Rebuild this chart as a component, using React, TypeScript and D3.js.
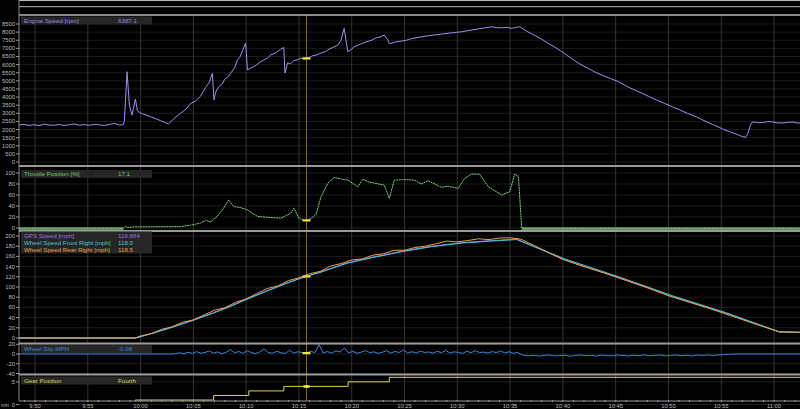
import React from "react";
import * as d3 from "d3";

// ---- time axis (minutes after 9:50) ----
const timeTicks = [0, 5, 10, 15, 20, 25, 30, 35, 40, 45, 50, 55, 60, 65, 70];
const timeLabels = ["9:50", "9:55", "10:00", "10:05", "10:10", "10:15", "10:20", "10:25", "10:30", "10:35", "10:40", "10:45", "10:50", "10:55", "11:00"];
const cursorTime = 25.72;

// ---- Engine speed [rpm] ----
const engineTime = [-1.52, -1.05, -0.57, -0.1, 0.38, 0.86, 1.33, 1.81, 2.28, 2.76, 3.23, 3.71, 4.18, 4.66, 5.13, 5.61, 6.08, 6.56, 7.03, 7.51, 7.98, 8.37, 8.46, 8.72, 8.94, 9.19, 9.51, 9.7, 9.98, 10.93, 11.88, 12.64, 13.2, 13.78, 14.3, 14.73, 15.2, 15.68, 16.16, 16.5, 16.8, 16.95, 17.11, 17.4, 17.7, 17.97, 18.3, 18.54, 18.9, 19.17, 19.4, 19.68, 19.96, 20.12, 20.44, 20.7, 21.01, 21.3, 21.67, 22.0, 22.34, 22.8, 23.29, 23.57, 23.67, 23.93, 24.2, 24.52, 24.9, 25.19, 25.5, 25.82, 26.1, 26.33, 26.7, 27.09, 27.5, 27.85, 28.2, 28.68, 28.99, 29.28, 29.63, 30.0, 30.23, 30.8, 31.37, 31.9, 32.32, 32.7, 33.08, 33.43, 33.56, 33.75, 34.2, 34.7, 35.2, 35.65, 36.1, 36.6, 37.5, 38.5, 39.4, 40.4, 41.1, 41.83, 42.5, 43.25, 43.7, 44.2, 44.7, 45.15, 45.5, 45.91, 46.58, 47.05, 48.0, 48.76, 49.3, 49.9, 50.67, 51.49, 52.57, 53.1, 53.71, 54.47, 55.29, 55.8, 56.37, 57.51, 58.2, 58.94, 59.6, 60.36, 61.0, 61.79, 62.5, 63.21, 64.16, 64.6, 65.11, 66.06, 66.5, 67.02, 67.3, 67.49, 67.78, 67.97, 68.5, 68.92, 69.4, 69.87, 70.3, 70.82, 71.3, 71.77, 72.2, 72.72];
const engineRpm = [2280, 2320, 2250, 2300, 2240, 2330, 2280, 2260, 2310, 2250, 2290, 2340, 2270, 2300, 2260, 2320, 2290, 2250, 2310, 2380, 2280, 2300, 2500, 5560, 3500, 2890, 3880, 3150, 3020, 2800, 2550, 2340, 2700, 3000, 3250, 3600, 3750, 4050, 4600, 4900, 5460, 3820, 4300, 4640, 4780, 5100, 5250, 5480, 5800, 6280, 6450, 6900, 7330, 5670, 5790, 5850, 6000, 6150, 6280, 6400, 6600, 6720, 6960, 7050, 5480, 6100, 6050, 6250, 6300, 6400, 6350, 6390, 6480, 6550, 6600, 6710, 6800, 6950, 7050, 7200, 7500, 8230, 6790, 6950, 7100, 7250, 7400, 7500, 7650, 7700, 7820, 7510, 7300, 7310, 7400, 7450, 7500, 7600, 7650, 7710, 7800, 7880, 7950, 8020, 8100, 8180, 8250, 8330, 8280, 8260, 8300, 8230, 8280, 8330, 8050, 7900, 7560, 7250, 7050, 6790, 6450, 6080, 5700, 5520, 5350, 5150, 4940, 4750, 4560, 4230, 4020, 3800, 3620, 3400, 3230, 3000, 2820, 2600, 2320, 2200, 2040, 1800, 1700, 1560, 1520, 1700, 2300, 2480, 2420, 2430, 2490, 2470, 2410, 2400, 2450, 2460, 2400, 2420];

// ---- Throttle position [%] ----
const throttleTime = [-1.52, 8.37, 8.56, 8.75, 9.51, 13.78, 14.73, 15.68, 16.16, 16.63, 17.3, 17.87, 18.35, 18.82, 19.49, 20.12, 21.07, 22.34, 23.29, 24.24, 24.52, 25.0, 25.48, 25.86, 26.62, 27.09, 27.73, 28.33, 29.0, 29.63, 30.58, 31.06, 31.53, 32.3, 33.08, 33.56, 34.03, 35.0, 35.93, 36.6, 37.23, 38.5, 39.13, 40.09, 40.68, 41.35, 42.11, 42.94, 44.2, 44.96, 45.44, 45.79, 46.1, 72.72];
const throttlePct = [0, 0, 3, 1, 2, 2.5, 5, 9, 14, 11, 22, 36, 51, 39, 37, 33, 21, 19, 18, 27, 36, 18, 13.6, 14, 24, 57, 81, 92, 89, 87, 75, 89, 84, 81, 78, 54, 87, 88, 87, 80, 86, 74, 76, 72, 90, 98, 98, 75, 60, 66, 98, 93, 0, 0];

// ---- Speeds [mph] ----
const speedTime = [-1.52, 9.51, 10.93, 12.83, 14.92, 16.92, 18.54, 19.96, 21.86, 23.57, 25.19, 27.09, 29.47, 31.84, 34.7, 37.55, 40.4, 43.25, 45.63, 50.19, 55.29, 60.36, 65.4, 70.5, 72.72];
const gpsSpeed = [0, 0, 8, 20, 35, 50, 63, 76, 92, 106, 117, 130, 147, 158, 170, 180, 187, 191, 194, 153, 118, 81, 49, 12, 11];
const frontSpeed = [0, 0, 8, 20, 34, 49, 62, 75, 91, 105, 118, 129, 146, 157, 169, 179, 186, 190, 193, 155, 120, 83, 50, 12, 11];
const rearTime = [-1.52, 9.51, 10, 11, 12, 13, 14, 15, 16, 17, 18, 19, 20, 21, 22, 23, 24, 25, 26, 27, 28, 29, 30, 31, 32, 33, 34, 35, 36, 37, 38, 39, 40, 41, 42, 43, 44, 45, 46, 48, 50, 52, 54, 56, 58, 60, 62, 64, 66, 68, 70.5, 72.72];
const rearSpeed = [0, 0, 4, 8.5, 17, 22, 31, 35.5, 45, 54.5, 59.5, 70, 76.5, 87, 97, 102, 112.5, 118, 126, 130.5, 141, 146, 153, 155, 162.5, 165, 172, 172, 177.5, 180, 185, 190, 188.5, 191, 194.5, 193, 196, 196.5, 194, 174, 154, 140, 127, 113, 99, 83, 70, 57, 43, 29, 12, 11];

// ---- Wheel slip [mph] ----
const slipTime1 = [-1.52, 13.0];
const slipVal1 = [0, 0];
const slipStart2 = 13.3;
const slipStep2 = 0.4;
const slipVal2 = [1.0, 2.4, 0.6, 3.6, 1.2, 4.8, 1.6, 3.0, 6.4, 1.8, 4.2, 0.8, 3.4, 9.0, 2.2, 5.2, 1.4, 6.8, 2.6, 1.0, 4.4, 10.2, 2.8, 1.8, 5.6, 2.4, 1.2, 7.4, 2.0, 4.6, 3.2, 1.6, 5.8, 2.6, 19.0, 2.2, 5.0, 1.8, 6.4, 4.0, 12.5, 2.4, 5.4, 1.6, 3.8, 7.0, 2.8, 4.4, 1.4, 3.6, 6.6, 2.0, 5.2, 3.0, 8.2, 2.2, 4.8, 1.8, 6.0, 3.2, 4.2, 1.6, 5.6, 2.6, 7.2, 2.0, 4.4, 3.4, 1.2, 5.8, 2.4, 6.8, 3.0, 4.0, 1.8, 5.0, 2.8, 6.2, 2.2, 4.6, 1.6, 3.0];
const slipStart3 = 46.2;
const slipStep3 = 0.5;
const slipVal3 = [-2.2, -3.8, -2.6, -4.2, -3.0, -2.0, -4.0, -3.2, -2.4, -4.6, -3.0, -1.8, -3.6, -2.8, -4.2, -2.2, -3.4, -3.8, -2.0, -3.0, -4.0, -2.6, -3.4, -1.8, -3.6, -2.8, -2.2, -3.8, -3.0, -2.0, -3.4, -2.6, -4.0, -2.2, -3.0, -1.8, -2.8, -2.0, -1.4, -0.8];
const slipTime4 = [66.5, 72.72];
const slipVal4 = [0, 0];

// ---- Gear ----
const gearTime = [-1.52, 9.5, 16.92, 20.25, 23.57, 29.66, 33.56, 72.72];
const gearValue = [0, 1, 2, 3, 4, 5, 6, 6];

// ---- Tick values ----
const engineTicks = [0, 500, 1000, 1500, 2000, 2500, 3000, 3500, 4000, 4500, 5000, 5500, 6000, 6500, 7000, 7500, 8000, 8500];
const throttleTicks = [0, 20, 40, 60, 80, 100];
const speedTicks = [0, 20, 40, 60, 80, 100, 120, 140, 160, 180, 200];
const slipTicks = [-40, -20, 0, 20];
const gearTicks = [0, 5];

type P = [number, number];
const zip = (t: number[], v: number[]): P[] => t.map((tt, i) => [tt, v[i]] as P);

function interp(pts: P[], t: number): number {
  const i = d3.bisector((d: P) => d[0]).left(pts, t);
  if (i <= 0) return pts[0][1];
  if (i >= pts.length) return pts[pts.length - 1][1];
  const a = pts[i - 1], b = pts[i];
  const f = (t - a[0]) / (b[0] - a[0] || 1);
  return a[1] + (b[1] - a[1]) * f;
}

const FONT = "Liberation Sans, Arial, sans-serif";

export default function App() {
  const x = d3.scaleLinear().domain([-1.516, 72.46]).range([19, 800]);
  const yEng = d3.scaleLinear().domain([0, 8500]).range([162, 24]);
  const yThr = d3.scaleLinear().domain([0, 100]).range([228, 173]);
  const ySpd = d3.scaleLinear().domain([0, 200]).range([338, 236]);
  const ySlip = d3.scaleLinear().domain([-40, 20]).range([373.5, 344.25]);
  const yGear = d3.scaleLinear().domain([1, 6]).range([400, 377.3]);

  const eng = zip(engineTime, engineRpm);
  const thr = zip(throttleTime, throttlePct);
  const gps = zip(speedTime, gpsSpeed);
  const front = zip(speedTime, frontSpeed);
  const rear = zip(rearTime, rearSpeed);
  const slip: P[] = [
    ...zip(slipTime1, slipVal1),
    ...slipVal2.map((v, i) => [slipStart2 + i * slipStep2, v] as P),
    ...slipVal3.map((v, i) => [slipStart3 + i * slipStep3, v] as P),
    ...zip(slipTime4, slipVal4),
  ];
  const gear = zip(gearTime, gearValue);

  const line = (ys: d3.ScaleLinear<number, number>) =>
    d3.line<P>().x((d) => x(d[0])).y((d) => ys(d[1]));
  const zeroBand = d3
    .area<P>()
    .defined((d) => d[1] === 0)
    .x((d) => x(d[0]))
    .y0(() => yThr(0) + 2.5)
    .y1(() => yThr(0) - 0.5);
  const gearLine = d3.line<P>().x((d) => x(d[0])).y((d) => yGear(d[1])).curve(d3.curveStepAfter);

  const cx = x(cursorTime);
  const xMinor = d3.range(-1, 73, 1);

  const panels = [
    { top: 15.5, bottom: 166, ticks: engineTicks, y: yEng },
    { top: 166, bottom: 230, ticks: throttleTicks, y: yThr },
    { top: 230, bottom: 343.5, ticks: speedTicks, y: ySpd },
    { top: 343.5, bottom: 374.5, ticks: slipTicks, y: ySlip },
    { top: 374.5, bottom: 401, ticks: gearTicks, y: yGear },
  ];

  const hl = (ys: d3.ScaleLinear<number, number>, pts: P[], color = "#f0e040") => {
    const v = interp(pts, cursorTime);
    return <line x1={cx - 4} x2={cx + 4} y1={ys(v)} y2={ys(v)} stroke={color} strokeWidth={2.2} />;
  };

  const labelBox = (y: number, rows: { name: string; value: string; color: string }[]) => (
    <g>
      <rect x={21} y={y} width={131} height={rows.length * 7 + 1} fill="#262626" />
      {rows.map((r, i) => (
        <g key={i}>
          <text x={24} y={y + 6 + i * 7} fontSize={6.2} fill={r.color} fontFamily={FONT}>{r.name}</text>
          <text x={118} y={y + 6 + i * 7} fontSize={6.2} fill={r.color} fontFamily={FONT}>{r.value}</text>
        </g>
      ))}
    </g>
  );

  return (
    <svg width={800} height={409} style={{ position: "absolute", left: 0, top: 0, background: "#000" }}>
      <rect x={0} y={0} width={800} height={409} fill="#000" />
      <defs>
        {panels.map((p, i) => (
          <clipPath id={`clip${i}`} key={i}>
            <rect x={19} y={p.top} width={781} height={p.bottom - p.top} />
          </clipPath>
        ))}
      </defs>

      {/* horizontal grid */}
      {panels.map((p, i) => (
        <g key={`hg${i}`}>
          {p.ticks.map((t) => (
            <line key={t} x1={19} x2={800} y1={p.y(t)} y2={p.y(t)} stroke="#1c1c1c" strokeWidth={1} />
          ))}
        </g>
      ))}

      {/* vertical grid */}
      {timeTicks.map((t) => (
        <line key={t} x1={x(t)} x2={x(t)} y1={15} y2={401} stroke="#333" strokeWidth={1} />
      ))}

      {/* cursor */}
      <line x1={cx} x2={cx} y1={15} y2={401} stroke="#8a6a2a" strokeWidth={1} />

      {/* Engine */}
      <g clipPath="url(#clip0)">
        <path d={line(yEng)(eng) || ""} fill="none" stroke="#a08ef0" strokeWidth={1} />
        {hl(yEng, eng)}
      </g>
      {/* Throttle */}
      <g clipPath="url(#clip1)">
        <path d={zeroBand(thr) || ""} fill="#5f8f62" />
        <path d={line(yThr)(thr) || ""} fill="none" stroke="#7fd37a" strokeWidth={1} strokeDasharray="2 0.6" />
        {hl(yThr, thr)}
      </g>
      {/* Speeds */}
      <g clipPath="url(#clip2)">
        <path d={line(ySpd)(gps) || ""} fill="none" stroke="#9a6fe0" strokeWidth={1} />
        <path d={line(ySpd)(front) || ""} fill="none" stroke="#3fc8d8" strokeWidth={1} />
        <path d={line(ySpd)(rear) || ""} fill="none" stroke="#e8a24a" strokeWidth={1} />
        {hl(ySpd, gps)}
      </g>
      {/* Slip */}
      <g clipPath="url(#clip3)">
        <path d={line(ySlip)(slip) || ""} fill="none" stroke="#3f86d8" strokeWidth={1} />
        {hl(ySlip, slip)}
      </g>
      {/* Gear */}
      <g clipPath="url(#clip4)">
        <path d={gearLine(gear) || ""} fill="none" stroke="#d8d850" strokeWidth={1} />
        <line x1={cx - 3} x2={cx + 3} y1={yGear(4)} y2={yGear(4)} stroke="#ffff40" strokeWidth={2.5} />
      </g>

      {/* separators */}
      {[166, 231, 343.5, 374.5].map((y) => (
        <line key={y} x1={19} x2={800} y1={y} y2={y} stroke="#9a9a9a" strokeWidth={2} />
      ))}
      <line x1={19} x2={800} y1={0.5} y2={0.5} stroke="#b8b8b8" strokeWidth={1} />
      <line x1={19} x2={800} y1={6.7} y2={6.7} stroke="#b8b8b8" strokeWidth={1} />
      <line x1={19} x2={800} y1={15} y2={15} stroke="#b8b8b8" strokeWidth={1.5} />

      {/* left axis */}
      <line x1={19} x2={19} y1={0} y2={401} stroke="#8a8a8a" strokeWidth={1} />
      {panels.map((p, i) => (
        <g key={`ya${i}`}>
          {p.ticks.map((t) => (
            <g key={t}>
              <line x1={16} x2={19} y1={p.y(t)} y2={p.y(t)} stroke="#9a9a9a" />
              <text x={15} y={p.y(t) + 2} fontSize={5.8} textAnchor="end" fill="#bdbdbd" fontFamily={FONT}>{String(t)}</text>
            </g>
          ))}
        </g>
      ))}

      {/* bottom axis */}
      <line x1={19} x2={800} y1={401} y2={401} stroke="#9a9a9a" strokeWidth={1} />
      {xMinor.map((t) => (
        <line key={t} x1={x(t)} x2={x(t)} y1={400} y2={402} stroke="#9a9a9a" />
      ))}
      {timeTicks.map((t, i) => (
        <text key={t} x={x(t)} y={407.5} fontSize={5.8} textAnchor="middle" fill="#bdbdbd" fontFamily={FONT}>{timeLabels[i]}</text>
      ))}
      <text x={1} y={407} fontSize={5} fill="#bdbdbd" fontFamily={FONT}>min</text>

      {/* label boxes */}
      {labelBox(16.5, [{ name: "Engine Speed [rpm]", value: "6387.1", color: "#9b82e6" }])}
      {labelBox(170, [{ name: "Throttle Position [%]", value: "17.1", color: "#6ccf62" }])}
      {labelBox(231.5, [
        { name: "GPS Speed [mph]", value: "116.884", color: "#9d73e6" },
        { name: "Wheel Speed Front Right [mph]", value: "118.0", color: "#45c8d8" },
        { name: "Wheel Speed Rear Right [mph]", value: "118.5", color: "#e8a24a" },
      ])}
      {labelBox(345, [{ name: "Wheel Slip MPH", value: "-0.08", color: "#3f86d8" }])}
      {labelBox(376.5, [{ name: "Gear Position", value: "Fourth", color: "#d8d850" }])}
    </svg>
  );
}
